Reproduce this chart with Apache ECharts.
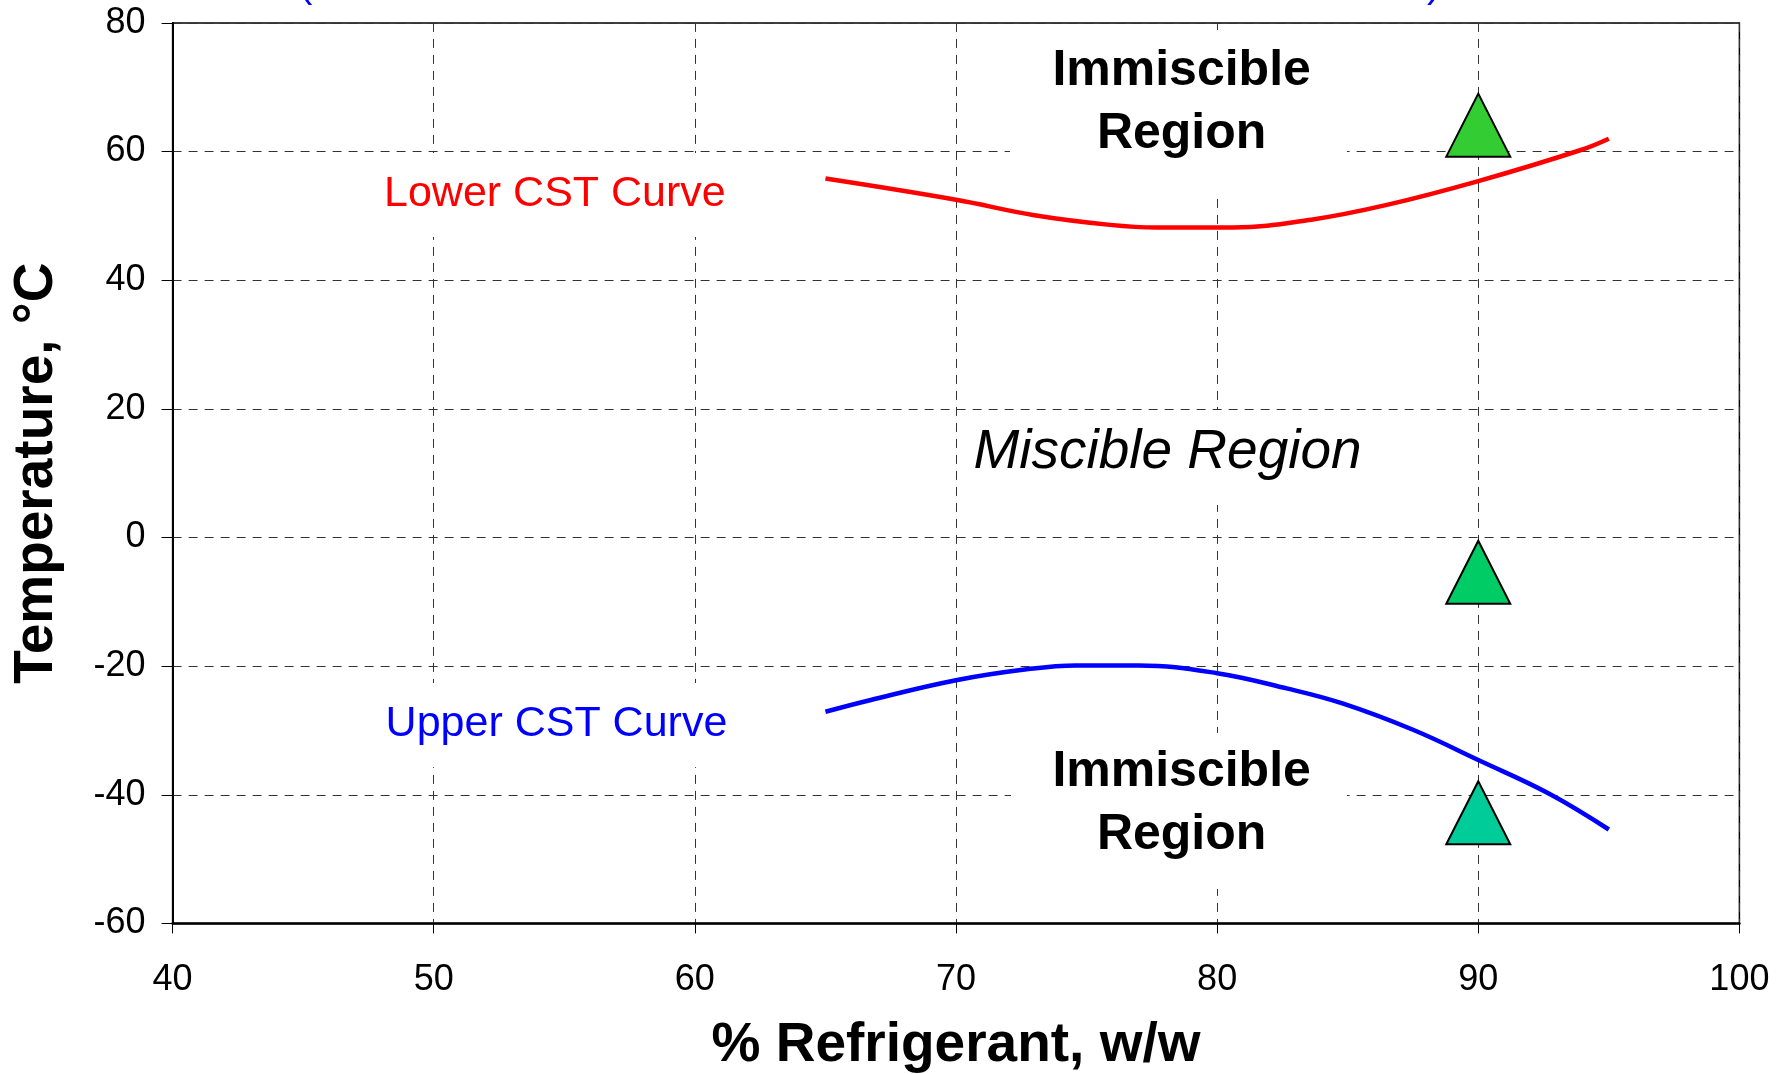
<!DOCTYPE html>
<html>
<head>
<meta charset="utf-8">
<script src="https://cdn.jsdelivr.net/npm/echarts@6/dist/echarts.min.js"></script>
<style>
html,body{margin:0;padding:0;background:#fff;}
#chart{width:1792px;height:1074px;}
</style>
</head>
<body>
<div id="chart"></div>
<script>
// ---- data ----
const lowerX = [65.0, 70.0, 73.0, 75.9, 77.7, 80.6, 83.6, 86.5, 90.0, 93.9, 95.0];
const lowerY = [55.8, 52.5, 50.1, 48.6, 48.2, 48.2, 49.4, 51.7, 55.4, 60.2, 62.0];
const upperX = [65.0, 66.7, 70.0, 72.7, 74.6, 77.0, 80.0, 82.7, 84.8, 87.5, 90.0, 92.7, 95.0];
const upperY = [-27.1, -25.3, -22.2, -20.5, -19.9, -19.9, -21.1, -23.5, -25.8, -29.9, -34.6, -39.8, -45.4];
const markerX = [90, 90, 90];
const markerY = [64.1, -5.4, -42.8];
const markerColors = ['#33CC33', '#00CC66', '#00CC99'];
const xTicks = [40, 50, 60, 70, 80, 90, 100];
const yTicks = [-60, -40, -20, 0, 20, 40, 60, 80];
// annotation texts and their anchor (data units)
const noteText = ['Immiscible\nRegion', 'Miscible Region', 'Immiscible\nRegion', 'Lower CST Curve', 'Upper CST Curve'];
const noteX = [78.64, 78.1, 78.64, 54.64, 54.7];
const noteY = [67.54, 13.14, -41.46, 53.42, -29.06];
// white backing boxes behind the annotations (data-unit centres)
const boxX = [78.52, 78.10, 78.54, 54.64, 54.70];
const boxY = [66.30, 12.43, -42.53, 53.24, -29.16];

const FONT = '"Liberation Sans", Arial, Helvetica, sans-serif';

const noteStyles = [
  {fontSize: 50, fontWeight: 'bold', color: '#000', lineHeight: 63},
  {fontSize: 55, fontStyle: 'italic', color: '#000', lineHeight: 55},
  {fontSize: 50, fontWeight: 'bold', color: '#000', lineHeight: 63},
  {fontSize: 43, color: '#FF0000', lineHeight: 43},
  {fontSize: 43, color: '#0000FF', lineHeight: 43}
];
const boxSizes = [[337, 162], [413, 95], [336, 156], [364, 84], [364, 84]];

const chart = echarts.init(document.getElementById('chart'), null, {renderer: 'canvas'});

const gridDash = {color: '#333', width: 1, type: [9, 7]};

const option = {
  animation: false,
  backgroundColor: '#fff',
  textStyle: {fontFamily: FONT},
  grid: {left: 172.6, right: 52.6, top: 22.9, bottom: 150.6, show: true, borderColor: '#000', borderWidth: 1.5, containLabel: false, outerBoundsMode: 'none'},
  xAxis: {
    type: 'value', min: xTicks[0], max: xTicks[xTicks.length - 1], interval: 10,
    name: '% Refrigerant, w/w', nameLocation: 'middle', nameGap: 95,
    nameTextStyle: {fontFamily: FONT, fontSize: 55, fontWeight: 'bold', color: '#000'},
    axisLine: {show: true, onZero: false, lineStyle: {color: '#000', width: 2.5}},
    axisTick: {show: true, length: 10, lineStyle: {color: '#000', width: 1}},
    axisLabel: {fontFamily: FONT, fontSize: 36, color: '#000', margin: 39},
    splitLine: {show: true, lineStyle: gridDash}
  },
  yAxis: {
    type: 'value', min: yTicks[0], max: yTicks[yTicks.length - 1], interval: 20,
    name: 'Temperature, °C', nameLocation: 'middle', nameGap: 108,
    nameTextStyle: {fontFamily: FONT, fontSize: 55, fontWeight: 'bold', color: '#000'},
    axisLine: {show: true, onZero: false, lineStyle: {color: '#000', width: 2}},
    axisTick: {show: true, length: 11, lineStyle: {color: '#000', width: 1}},
    axisLabel: {fontFamily: FONT, fontSize: 36, color: '#000', margin: 27},
    splitLine: {show: true, lineStyle: gridDash}
  },
  graphic: [
    {type: 'text', left: 299, top: -34, silent: true, style: {text: '(', font: '40px ' + FONT, fill: '#0000FF'}},
    {type: 'text', left: 1427, top: -34, silent: true, style: {text: ')', font: '40px ' + FONT, fill: '#0000FF'}}
  ],
  series: [
    {
      name: 'boxes', type: 'scatter', symbol: 'rect', silent: true, z: 1,
      itemStyle: {color: '#fff', opacity: 1},
      data: boxX.map((x, i) => ({value: [x, boxY[i]], symbolSize: boxSizes[i]}))
    },
    {
      name: 'Lower CST Curve', type: 'line', smooth: 0.4, symbol: 'none', silent: true, z: 3,
      lineStyle: {color: '#FF0000', width: 4.5},
      data: lowerX.map((x, i) => [x, lowerY[i]])
    },
    {
      name: 'Upper CST Curve', type: 'line', smooth: 0.4, symbol: 'none', silent: true, z: 3,
      lineStyle: {color: '#0000FF', width: 4.5},
      data: upperX.map((x, i) => [x, upperY[i]])
    },
    {
      name: 'markers', type: 'scatter', symbol: 'triangle', symbolSize: [64, 63], silent: true, z: 5,
      itemStyle: {opacity: 1},
      data: markerX.map((x, i) => ({
        value: [x, markerY[i]],
        itemStyle: {color: markerColors[i], borderColor: '#000', borderWidth: 2, opacity: 1}
      }))
    },
    {
      name: 'notes', type: 'scatter', symbolSize: 0.1, silent: true, z: 4,
      itemStyle: {color: 'rgba(0,0,0,0)', opacity: 1},
      data: noteText.map((t, i) => ({
        value: [noteX[i], noteY[i]],
        label: Object.assign({
          show: true, position: 'inside', formatter: t, fontFamily: FONT,
          align: 'center', verticalAlign: 'middle', opacity: 1
        }, noteStyles[i])
      }))
    }
  ]
};
chart.setOption(option);
</script>
</body>
</html>
